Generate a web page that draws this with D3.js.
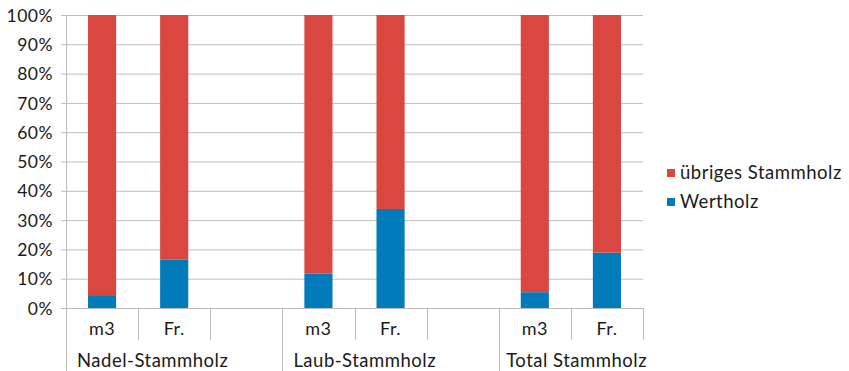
<!DOCTYPE html>
<html>
<head>
<meta charset="utf-8">
<script src="https://cdn.jsdelivr.net/npm/d3@7"></script>
<style>
  html, body { margin: 0; padding: 0; background: #fff; }
  svg { display: block; }
  text { font-family: Lato, "Open Sans", sans-serif; fill: #1a1a1a; letter-spacing: 0.5px; }
</style>
</head>
<body>
<svg id="chart" width="849" height="371"></svg>
<script>
// Category slots (group, measure); empty measure = spacer slot
const groups = ["Nadel-Stammholz", "Laub-Stammholz", "Total Stammholz"];
const slots = [
  ["Nadel-Stammholz", "m3"], ["Nadel-Stammholz", "Fr."], ["Nadel-Stammholz", ""],
  ["Laub-Stammholz", "m3"], ["Laub-Stammholz", "Fr."], ["Laub-Stammholz", ""],
  ["Total Stammholz", "m3"], ["Total Stammholz", "Fr."]
];
// Share of Wertholz per bar (percent); remainder is übriges Stammholz
const wertholz = [4.4, 16.6, null, 11.8, 33.8, null, 5.4, 18.9];
const seriesNames = ["übriges Stammholz", "Wertholz"];
const colors = { "übriges Stammholz": "#da4640", "Wertholz": "#027bbb" };
const yTicks = [0, 10, 20, 30, 40, 50, 60, 70, 80, 90, 100];

const svg = d3.select("#chart");
const plotL = 66, plotR = 643, plotT = 15, plotB = 308;

const x = d3.scaleBand().domain(d3.range(slots.length)).range([plotL, plotR]).paddingInner(0).paddingOuter(0);
const y = d3.scaleLinear().domain([0, 100]).range([plotB, plotT]);
const barW = x.bandwidth() * 0.39;

// gridlines
svg.append("g").selectAll("line").data(yTicks).join("line")
  .attr("x1", plotL - 5).attr("x2", plotR)
  .attr("y1", d => y(d) + 0.5).attr("y2", d => y(d) + 0.5)
  .attr("stroke", "#bdbdbd").attr("stroke-width", 1);

// y labels
const yAxis = d3.axisLeft(y).tickValues(yTicks).tickFormat(d => d + "%").tickSize(0).tickPadding(13);
const ya = svg.append("g").attr("transform", `translate(${plotL},0)`).call(yAxis);
ya.select(".domain").remove();
ya.selectAll("text").attr("font-size", 17.5).attr("font-family", "Lato, sans-serif").attr("fill", "#1a1a1a").attr("dy", "0.35em");

// bars
const rows = slots.map((s, i) => ({ i, w: wertholz[i] })).filter(d => d.w !== null);
const stackData = rows.map(d => ({ i: d.i, "Wertholz": d.w, "übriges Stammholz": 100 - d.w }));
const stack = d3.stack().keys(["Wertholz", "übriges Stammholz"])(stackData);
svg.append("g").selectAll("g").data(stack).join("g")
  .attr("fill", s => colors[s.key])
  .selectAll("rect").data(s => s).join("rect")
  .attr("x", d => x(d.data.i) + (x.bandwidth() - barW) / 2)
  .attr("width", barW)
  .attr("y", d => y(d[1]))
  .attr("height", d => y(d[0]) - y(d[1]));

// axis line
svg.append("line").attr("x1", plotL + 0.5).attr("x2", plotL + 0.5).attr("y1", plotT).attr("y2", 371)
  .attr("stroke", "#bdbdbd");

// category dividers
const dividers = d3.range(1, slots.length + 1);
svg.append("g").selectAll("line").data(dividers).join("line")
  .attr("x1", d => Math.round(x(d - 1) + x.bandwidth()) + 0.5)
  .attr("x2", d => Math.round(x(d - 1) + x.bandwidth()) + 0.5)
  .attr("y1", plotB)
  .attr("y2", d => (d < slots.length && slots[d][0] !== slots[d - 1][0]) ? 371 : 340)
  .attr("stroke", "#bdbdbd");

// measure labels
svg.append("g").selectAll("text").data(slots.map((s, i) => ({ s, i })).filter(d => d.s[1]))
  .join("text")
  .attr("x", d => x(d.i) + x.bandwidth() / 2)
  .attr("y", 334.5)
  .attr("text-anchor", "middle").attr("font-size", 18)
  .text(d => d.s[1]);

// group labels: start near the left of each group, kept inside the right edge
svg.append("g").selectAll("text").data(groups).join("text")
  .attr("y", 366.5)
  .attr("font-size", 18.5)
  .text(g => g)
  .attr("x", function (g) {
    const first = slots.findIndex(s => s[0] === g);
    const w = this.getComputedTextLength();
    return Math.min(x(first) + 11, plotR + 4 - w);
  });

// legend
const lg = svg.append("g").attr("transform", "translate(667,169)");
seriesNames.forEach((n, k) => {
  const row = lg.append("g").attr("transform", `translate(0,${k * 29})`);
  row.append("rect").attr("width", 8).attr("height", 8).attr("fill", colors[n]);
  row.append("text").attr("x", 13).attr("y", 4).attr("dy", "0.35em").attr("font-size", 18.5).text(n);
});
</script>
</body>
</html>
